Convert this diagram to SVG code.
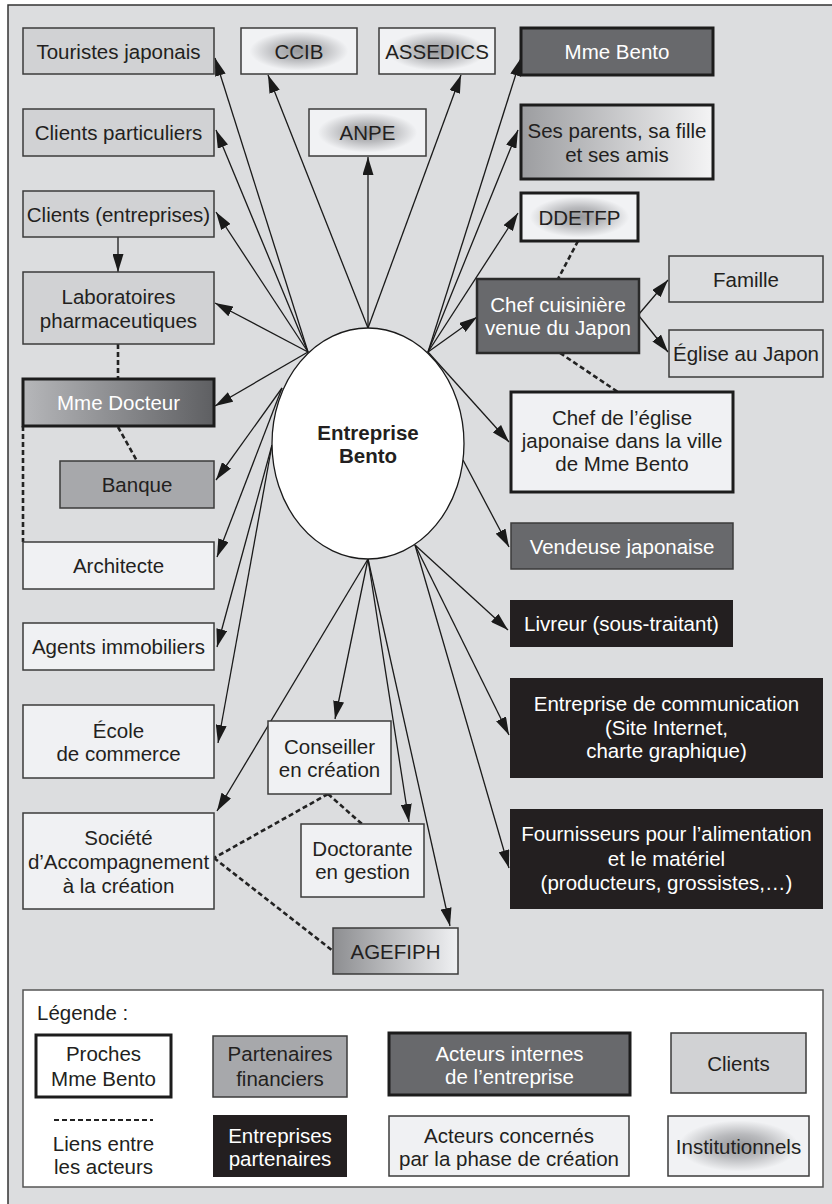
<svg xmlns="http://www.w3.org/2000/svg" width="832" height="1204" viewBox="0 0 832 1204">
<defs>
<style>
text{font-family:"Liberation Sans",Arial,Helvetica,sans-serif;font-size:20.5px;text-anchor:middle;fill:#231f20}
.w{fill:#ffffff}
.b{font-weight:bold}
.thin{stroke:#3b3b3b;stroke-width:1.5}
.thick{stroke:#1c1c1c;stroke-width:3}
.light{fill:#f0f1f3}
.cli{fill:#d1d2d4}
.fin{fill:#a7a8ab}
.int{fill:#68696c}
.par{fill:#231f20}
.fam{fill:#dcdddf}
.inst{fill:url(#gInst)}
.arr{stroke:#1a1a1a;stroke-width:1.3;fill:none;marker-end:url(#ah)}
.dash{stroke:#222;stroke-width:2.6;fill:none;stroke-dasharray:5 3}
</style>
<marker id="ah" markerUnits="userSpaceOnUse" markerWidth="18" markerHeight="11" refX="18" refY="5.5" orient="auto">
<path d="M0,0 L18,5.5 L0,11 z" fill="#1a1a1a"/>
</marker>
<radialGradient id="gInst" cx="0.5" cy="0.5" r="0.5">
<stop offset="0" stop-color="#96979a"/>
<stop offset="0.4" stop-color="#b9babd"/>
<stop offset="0.85" stop-color="#f1f2f4"/>
</radialGradient>
<linearGradient id="gParents" x1="0" y1="0" x2="1" y2="0">
<stop offset="0" stop-color="#9c9da0"/>
<stop offset="1" stop-color="#f4f4f5"/>
</linearGradient>
<linearGradient id="gDocteur" x1="0" y1="0" x2="1" y2="0">
<stop offset="0" stop-color="#b6b7ba"/>
<stop offset="1" stop-color="#5e5f62"/>
</linearGradient>
<linearGradient id="gAgef" x1="0" y1="0" x2="1" y2="0">
<stop offset="0" stop-color="#8d8e91"/>
<stop offset="1" stop-color="#f0f1f3"/>
</linearGradient>
</defs>

<rect x="8" y="5" width="840" height="1210" fill="#dcdddf" stroke="#333" stroke-width="1.5"/>

<g id="connectors">
<line class="arr" x1="308" y1="352" x2="215" y2="58"/>
<line class="arr" x1="308" y1="352" x2="216" y2="130"/>
<line class="arr" x1="308" y1="352" x2="216" y2="212"/>
<line class="arr" x1="308" y1="352" x2="215" y2="303"/>
<line class="arr" x1="308" y1="352" x2="215" y2="406"/>
<line class="arr" x1="368" y1="328" x2="268" y2="75"/>
<line class="arr" x1="368" y1="328" x2="368" y2="157"/>
<line class="arr" x1="368" y1="328" x2="461" y2="75"/>
<line class="arr" x1="428" y1="352" x2="521" y2="58"/>
<line class="arr" x1="428" y1="352" x2="518" y2="130"/>
<line class="arr" x1="428" y1="352" x2="518" y2="213"/>
<line class="arr" x1="428" y1="352" x2="477" y2="317"/>
<line class="arr" x1="428" y1="352" x2="509" y2="442"/>
<line class="arr" x1="282" y1="388" x2="216" y2="480"/>
<line class="arr" x1="282" y1="388" x2="217" y2="557"/>
<line class="arr" x1="272" y1="445" x2="217" y2="647"/>
<line class="arr" x1="272" y1="445" x2="218" y2="743"/>
<line class="arr" x1="463" y1="460" x2="509" y2="547"/>
<line class="arr" x1="415" y1="545" x2="508" y2="630"/>
<line class="arr" x1="415" y1="545" x2="509" y2="735"/>
<line class="arr" x1="415" y1="545" x2="509" y2="868"/>
<line class="arr" x1="368" y1="559" x2="217" y2="811"/>
<line class="arr" x1="368" y1="559" x2="335" y2="719"/>
<line class="arr" x1="368" y1="559" x2="409" y2="822"/>
<line class="arr" x1="368" y1="559" x2="450" y2="926"/>
<line class="arr" x1="118" y1="237" x2="118" y2="272"/>
<line class="arr" x1="639" y1="314" x2="668" y2="280"/>
<line class="arr" x1="639" y1="316" x2="668" y2="352"/>
<line class="dash" x1="118" y1="344" x2="118" y2="379"/>
<line class="dash" x1="118" y1="427" x2="137" y2="461"/>
<line class="dash" x1="23" y1="426" x2="23" y2="542"/>
<line class="dash" x1="578" y1="241" x2="558" y2="279"/>
<line class="dash" x1="560" y1="353" x2="618" y2="392"/>
<line class="dash" x1="328" y1="794" x2="214" y2="858"/>
<line class="dash" x1="328" y1="794" x2="362" y2="824"/>
<line class="dash" x1="214" y1="858" x2="333" y2="951"/>
</g>

<g id="center">
<ellipse cx="368" cy="443.5" rx="96" ry="115.5" fill="#ffffff" stroke="#1a1a1a" stroke-width="1.3"/>
<text class="b" x="368" y="440">Entreprise</text>
<text class="b" x="368" y="463">Bento</text>
</g>

<g id="touristes"><rect class="cli thin" x="23" y="28" width="191" height="46"/><text x="118.5" y="58.5">Touristes japonais</text></g>
<g id="ccib"><rect class="inst thin" x="241" y="28" width="116" height="46"/><text x="299" y="58.5">CCIB</text></g>
<g id="assedics"><rect class="inst thin" x="379" y="28" width="116" height="46"/><text x="437" y="58.5">ASSEDICS</text></g>
<g id="mmebento"><rect class="int thick" x="521" y="28" width="192" height="47"/><text class="w" x="617" y="59">Mme Bento</text></g>
<g id="anpe"><rect class="inst thin" x="309" y="109" width="117" height="47"/><text x="367.5" y="140">ANPE</text></g>
<g id="particuliers"><rect class="cli thin" x="23" y="109" width="191" height="47"/><text x="118.5" y="140">Clients particuliers</text></g>
<g id="parents"><rect fill="url(#gParents)" class="thick" x="521" y="105" width="192" height="74"/><text x="617" y="137.5">Ses parents, sa fille</text><text x="617" y="161.5">et ses amis</text></g>
<g id="ddetfp"><rect class="inst thick" x="521" y="193" width="117" height="48"/><text x="579.5" y="224.5">DDETFP</text></g>
<g id="entreprises"><rect class="cli thin" x="23" y="191" width="191" height="46"/><text x="118.5" y="221.5">Clients (entreprises)</text></g>
<g id="labos"><rect class="cli thin" x="23" y="272" width="191" height="72"/><text x="118.5" y="303.5">Laboratoires</text><text x="118.5" y="327.5">pharmaceutiques</text></g>
<g id="docteur"><rect fill="url(#gDocteur)" class="thick" x="23" y="379" width="191" height="47"/><text class="w" x="118.5" y="410">Mme Docteur</text></g>
<g id="banque"><rect class="fin thin" x="60" y="461" width="154" height="47"/><text x="137" y="492">Banque</text></g>
<g id="architecte"><rect class="light thin" x="23" y="542" width="191" height="47"/><text x="118.5" y="573">Architecte</text></g>
<g id="agents"><rect class="light thin" x="23" y="623" width="191" height="47"/><text x="118.5" y="654">Agents immobiliers</text></g>
<g id="ecole"><rect class="light thin" x="23" y="705" width="191" height="73"/><text x="118.5" y="737.5">École</text><text x="118.5" y="760.5">de commerce</text></g>
<g id="conseiller"><rect class="light thin" x="268" y="721" width="123" height="73"/><text x="329.5" y="753.5">Conseiller</text><text x="329.5" y="776.5">en création</text></g>
<g id="societe"><rect class="light thin" x="23" y="813" width="191" height="96"/><text x="118.5" y="844.5">Société</text><text x="118.5" y="868.5">d’Accompagnement</text><text x="118.5" y="892.5">à la création</text></g>
<g id="doctorante"><rect class="light thin" x="301" y="824" width="123" height="73"/><text x="362.5" y="855.5">Doctorante</text><text x="362.5" y="878.5">en gestion</text></g>
<g id="agefiph"><rect fill="url(#gAgef)" class="thin" x="333" y="928" width="125" height="46"/><text x="395.5" y="958.5">AGEFIPH</text></g>
<g id="chefcuisine"><rect class="int" stroke="#2a2a2a" stroke-width="2.5" x="477" y="279" width="162" height="74"/><text class="w" x="558" y="311.5">Chef cuisinière</text><text class="w" x="558" y="334.5">venue du Japon</text></g>
<g id="famille"><rect class="fam thin" x="669" y="256" width="154" height="46"/><text x="746" y="286.5">Famille</text></g>
<g id="eglisejapon"><rect class="fam thin" x="669" y="330" width="154" height="47"/><text x="746" y="361">Église au Japon</text></g>
<g id="chefeglise"><rect class="light thick" x="511" y="392" width="222" height="100"/><text x="622" y="424.5">Chef de l’église</text><text x="622" y="447.5">japonaise dans la ville</text><text x="622" y="470.5">de Mme Bento</text></g>
<g id="vendeuse"><rect class="int thin" x="511" y="523" width="222" height="46"/><text class="w" x="622" y="553.5">Vendeuse japonaise</text></g>
<g id="livreur"><rect class="par" x="510" y="600" width="223" height="47"/><text class="w" x="621.5" y="631">Livreur (sous-traitant)</text></g>
<g id="communication"><rect class="par" x="510" y="678" width="313" height="100"/><text class="w" x="666.5" y="710.5">Entreprise de communication</text><text class="w" x="666.5" y="734.5">(Site Internet,</text><text class="w" x="666.5" y="757.5">charte graphique)</text></g>
<g id="fournisseurs"><rect class="par" x="510" y="809" width="313" height="100"/><text class="w" x="666.5" y="840.5">Fournisseurs pour l’alimentation</text><text class="w" x="666.5" y="865.5">et le matériel</text><text class="w" x="666.5" y="889.5">(producteurs, grossistes,…)</text></g>

<g id="legende">
<rect x="23" y="990" width="800" height="197" fill="#ffffff" stroke="#555" stroke-width="1.5"/>
<text x="37" y="1020" style="text-anchor:start">Légende :</text>
<rect fill="#ffffff" class="thick" x="36" y="1035" width="135" height="62"/><text x="103.5" y="1060.5">Proches</text><text x="103.5" y="1085.5">Mme Bento</text>
<rect class="fin thin" x="213" y="1036" width="134" height="61"/><text x="280" y="1060.5">Partenaires</text><text x="280" y="1085.5">financiers</text>
<rect class="int thick" x="389" y="1033" width="241" height="62"/><text class="w" x="509.5" y="1060.5">Acteurs internes</text><text class="w" x="509.5" y="1083.5">de l’entreprise</text>
<rect class="cli thin" x="671" y="1033" width="135" height="60"/><text x="738.5" y="1070.5">Clients</text>
<line x1="54" y1="1120" x2="153" y2="1120" stroke="#222" stroke-width="2" stroke-dasharray="5 3"/>
<text x="103.5" y="1150.5">Liens entre</text><text x="103.5" y="1173.5">les acteurs</text>
<rect class="par" x="213" y="1115" width="134" height="62"/><text class="w" x="280" y="1142.5">Entreprises</text><text class="w" x="280" y="1165.5">partenaires</text>
<rect class="light thin" x="389" y="1116" width="240" height="60"/><text x="509" y="1142.5">Acteurs concernés</text><text x="509" y="1165.5">par la phase de création</text>
<rect class="inst thin" x="668" y="1116" width="141" height="60"/><text x="738.5" y="1153.5">Institutionnels</text>
</g>
</svg>
